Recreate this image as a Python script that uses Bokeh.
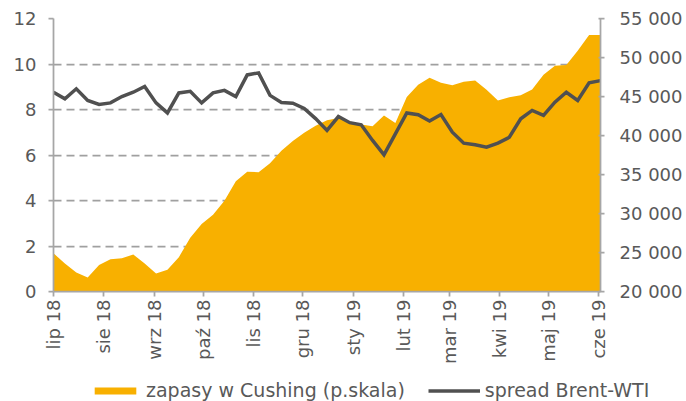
import math
import pandas as pd
from bokeh.plotting import figure
from bokeh.layouts import column
from bokeh.models import Range1d, LinearAxis, FixedTicker, Legend, LegendItem, ColumnDataSource
from bokeh.embed import file_html
from bokeh.resources import INLINE

# weekly observations (Fridays), Jul 2018 - Jun 2019
first_week = "2018-07-06"
n_weeks = 49

# spread Brent-WTI (USD/bbl, left axis)
spread = [8.76, 8.47, 8.91, 8.40, 8.22, 8.29, 8.57, 8.76, 9.01, 8.29,
          7.85, 8.73, 8.80, 8.29, 8.73, 8.84, 8.57, 9.52, 9.61, 8.62,
          8.31, 8.28, 8.05, 7.60, 7.08, 7.69, 7.42, 7.33, 6.64, 6.01,
          6.93, 7.85, 7.77, 7.49, 7.78, 7.00, 6.52, 6.45, 6.34, 6.52,
          6.78, 7.59, 7.96, 7.74, 8.32, 8.76, 8.40, 9.17, 9.27]

# zapasy w Cushing (tys. baryłek, right axis)
stocks = [24900, 23600, 22450, 21800, 23400, 24150, 24250, 24750, 23600, 22300,
          22800, 24400, 26900, 28650, 29850, 31650, 34150, 35350, 35300, 36450,
          38050, 39300, 40350, 41250, 41950, 42250, 41800, 41400, 41200, 42550,
          41600, 44950, 46500, 47400, 46750, 46450, 46900, 47050, 45850, 44500,
          44900, 45150, 45900, 47800, 48950, 49050, 50850, 52900, 52900]

month_tick_dates = ["2018-07-06", "2018-08-06", "2018-09-06", "2018-10-06",
                    "2018-11-06", "2018-12-06", "2019-01-06", "2019-02-06",
                    "2019-03-06", "2019-04-06", "2019-05-06", "2019-06-06"]
month_labels = ["lip 18", "sie 18", "wrz 18", "paź 18", "lis 18", "gru 18",
                "sty 19", "lut 19", "mar 19", "kwi 19", "maj 19", "cze 19"]

left_ticks = [0, 2, 4, 6, 8, 10, 12]
right_ticks = [20000, 25000, 30000, 35000, 40000, 45000, 50000, 55000]
right_tick_labels = ["20 000", "25 000", "30 000", "35 000", "40 000",
                     "45 000", "50 000", "55 000"]

series_names = ["zapasy w Cushing (p.skala)", "spread Brent-WTI"]

# ---------------------------------------------------------------
dates = pd.date_range(first_week, periods=n_weeks, freq="7D")
start = dates[0]
xdays = [(d - start).days for d in dates]
tick_days = [(pd.Timestamp(d) - start).days for d in month_tick_dates]

src = ColumnDataSource(dict(x=xdays, spread=spread, stocks=stocks,
                            base=[right_ticks[0]] * len(stocks)))

FONT = "DejaVu Sans"
TXT = "#595959"
AX = "#a6a6a6"
AREA_COLOR = "#F8B000"
LINE_COLOR = "#505050"

p = figure(width=686, height=378, output_backend="svg", toolbar_location=None,
           x_range=Range1d(xdays[0], xdays[-1]), y_range=Range1d(0, 12),
           min_border_left=53, min_border_right=86, min_border_top=18,
           min_border_bottom=87)
p.frame_align = False
p.extra_y_ranges = {"right": Range1d(right_ticks[0], right_ticks[-1])}
p.outline_line_color = None
p.background_fill_color = "white"
p.border_fill_color = "white"

p.varea(x="x", y1="base", y2="stocks", source=src, y_range_name="right",
        fill_color=AREA_COLOR, fill_alpha=1.0)
p.line(x="x", y="spread", source=src, line_color=LINE_COLOR, line_width=3.5,
       line_join="miter")

# axes
xa = p.xaxis[0]
xa.ticker = FixedTicker(ticks=tick_days)
xa.major_label_overrides = {t: lab for t, lab in zip(tick_days, month_labels)}
xa.major_label_orientation = math.pi / 2
xa.minor_tick_line_color = None
xa.major_tick_out = 5
xa.major_tick_in = 0
xa.major_label_standoff = 3

ya = p.yaxis[0]
ya.ticker = FixedTicker(ticks=left_ticks)
ya.minor_tick_line_color = None
ya.major_tick_out = 5
ya.major_tick_in = 0
ya.major_label_standoff = 12

ra = LinearAxis(y_range_name="right", ticker=FixedTicker(ticks=right_ticks))
ra.major_label_overrides = {t: lab for t, lab in zip(right_ticks, right_tick_labels)}
ra.minor_tick_line_color = None
ra.major_tick_out = 4
ra.major_tick_in = 2
ra.major_label_standoff = 15
p.add_layout(ra, "right")

for ax in (xa, ya, ra):
    ax.axis_line_color = AX
    ax.axis_line_width = 1.75
    ax.major_tick_line_color = AX
    ax.major_tick_line_width = 1.75
    ax.major_label_text_font = FONT
    ax.major_label_text_font_size = "18px"
    ax.major_label_text_color = TXT

p.xgrid.visible = False
p.ygrid.ticker = FixedTicker(ticks=left_ticks)
p.ygrid.grid_line_color = "#a0a0a0"
p.ygrid.grid_line_width = 1.75
p.ygrid.grid_line_dash = "8 5"

# legend strip: its own figure (so it is not clipped by the plot frame);
# it repeats the two series, kept outside its (empty) view ranges
lp = figure(width=686, height=23, output_backend="svg", toolbar_location=None,
            x_axis_location=None, y_axis_location=None,
            x_range=Range1d(-20, -10), y_range=Range1d(-20, -10),
            min_border=0, min_border_left=0, min_border_right=0,
            min_border_top=0, min_border_bottom=0)
lp.frame_align = False
lp.outline_line_color = None
lp.xgrid.visible = False
lp.ygrid.visible = False
l_area = lp.varea(x="x", y1="base", y2="stocks", source=src,
                  fill_color=AREA_COLOR, fill_alpha=1.0)
l_line = lp.line(x="x", y="spread", source=src, line_color=LINE_COLOR, line_width=3.5)

legend = Legend(items=[LegendItem(label=series_names[0], renderers=[l_area]),
                       LegendItem(label=series_names[1], renderers=[l_line])],
                location=(89, 0), orientation="horizontal",
                glyph_width=52, glyph_height=9, label_standoff=5, spacing=23,
                padding=0, margin=0, border_line_color=None,
                background_fill_alpha=0,
                label_text_font=FONT, label_text_font_size="19px",
                label_text_color=TXT)
lp.add_layout(legend, "center")

layout = column(p, lp, spacing=0)
open("out.html", "w").write(file_html(layout, INLINE))
